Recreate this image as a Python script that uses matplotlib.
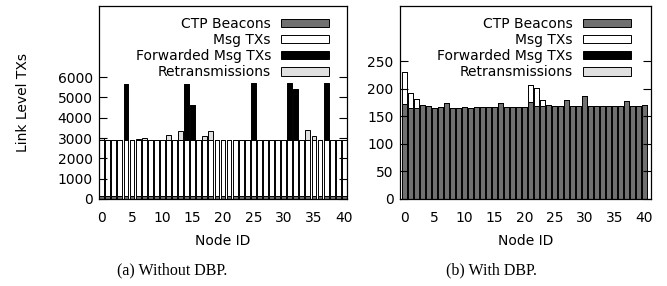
import matplotlib
matplotlib.use("Agg")
import matplotlib.pyplot as plt
import numpy as np

plt.rcParams['font.family'] = ['DejaVu Sans']

nodes = list(range(41))
series_names = ["CTP Beacons", "Msg TXs", "Forwarded Msg TXs", "Retransmissions"]
colors = ["#707070", "#ffffff", "#000000", "#e0e0e0"]

# (a) Without DBP
beacons_a = [150, 150, 150, 150, 150, 150, 150, 150, 150, 150,
             150, 150, 150, 150, 150, 150, 150, 150, 150, 150,
             150, 150, 150, 150, 150, 150, 150, 150, 150, 150,
             150, 150, 150, 150, 150, 150, 150, 150, 150, 150, 150]
msg_a = [2760, 2760, 2760, 2760, 2760, 2760, 2760, 2760, 2760, 2760,
         2760, 2760, 2760, 2760, 2760, 2760, 2760, 2760, 2760, 2760,
         2760, 2760, 2760, 2760, 2760, 2760, 2760, 2760, 2760, 2760,
         2760, 2760, 2760, 2760, 2760, 2760, 2760, 2760, 2760, 2760, 2760]
fwd_a = [0, 0, 0, 0, 2730, 0, 0, 0, 0, 0,
         0, 0, 0, 0, 2730, 1720, 0, 0, 0, 0,
         0, 0, 0, 0, 0, 2810, 0, 0, 0, 0,
         0, 2810, 2500, 0, 0, 0, 0, 2810, 0, 0, 0]
retx_a = [90, 0, 0, 0, 0, 0, 50, 110, 0, 0,
          0, 250, 0, 440, 0, 0, 0, 200, 440, 0,
          0, 0, 0, 0, 0, 0, 0, 0, 0, 0,
          0, 0, 0, 0, 480, 180, 0, 0, 0, 0, 0]

# (b) With DBP
beacons_b = [173, 165, 165, 170, 169, 165, 166, 174, 165, 165,
             166, 165, 166, 166, 166, 166, 175, 167, 167, 167,
             167, 176, 169, 169, 170, 169, 168, 179, 168, 168,
             186, 168, 168, 169, 169, 169, 169, 178, 169, 169, 170]
msg_b = [57, 28, 16, 0, 0, 0, 0, 0, 0, 0,
         0, 0, 0, 0, 0, 0, 0, 0, 0, 0,
         0, 30, 33, 11, 0, 0, 0, 0, 0, 0,
         0, 0, 0, 0, 0, 0, 0, 0, 0, 0, 0]
fwd_b = [0] * 41
retx_b = [0] * 41

yticks_a = [0, 1000, 2000, 3000, 4000, 5000, 6000]
yticks_b = [0, 50, 100, 150, 200, 250]
xticks = [0, 5, 10, 15, 20, 25, 30, 35, 40]

fig = plt.figure(figsize=(6.67, 2.86), dpi=100)
W, H = 667, 286

def ax_at(x0, x1, ytop, ybot):
    return fig.add_axes([x0 / W, (H - ybot) / H, (x1 - x0) / W, (ybot - ytop) / H])

ax1 = ax_at(99, 347, 6, 199)
ax2 = ax_at(400, 651, 6, 199)

FS = 10

def draw(ax, data, ylim, yticks, xlim, legx):
    bottom = np.zeros(len(nodes))
    for name, vals, c in zip(series_names, data, colors):
        vals = np.array(vals, dtype=float)
        ax.bar(nodes, vals, width=0.8, bottom=bottom, color=c,
               edgecolor="black", linewidth=0.7, label=name)
        bottom = bottom + vals
    ax.set_xlim(*xlim)
    ax.set_ylim(*ylim)
    ax.set_yticks(yticks)
    ax.set_xticks(xticks)
    ax.tick_params(axis='y', direction='in', length=6, width=0.8, right=True,
                   labelsize=FS, pad=4.5)
    ax.tick_params(axis='x', length=0, labelsize=FS, pad=9)
    for s in ax.spines.values():
        s.set_linewidth(0.9)
    ax.set_xlabel("Node ID", fontsize=FS, labelpad=6)
    leg = ax.legend(loc='upper right', bbox_to_anchor=(legx, 1 - 10.7 / 193),
                    frameon=False, markerfirst=False, fontsize=FS,
                    handlelength=3.45, handleheight=0.55, handletextpad=0.75,
                    labelspacing=0.16, borderpad=0, borderaxespad=0)
    for t in leg.get_texts():
        t.set_ha('right')
    return leg

draw(ax1, [beacons_a, msg_a, fwd_a, retx_a], (0, 9500), yticks_a, (-0.45, 40.45),
     1 - 17.7 / 248)
draw(ax2, [beacons_b, msg_b, fwd_b, retx_b], (0, 350), yticks_b, (-0.8, 41.13),
     1 - 20.3 / 251)

ax1.set_ylabel("Link Level TXs", fontsize=FS, labelpad=20)

cap_font = ['Liberation Serif', 'DejaVu Serif']
fig.text(172 / W, 1 - 270 / H, "(a) Without DBP.", ha='center', va='center',
         fontsize=11.5, family=cap_font)
fig.text(491 / W, 1 - 270 / H, "(b) With DBP.", ha='center', va='center',
         fontsize=11.5, family=cap_font)

fig.savefig("out.png", dpi=100)
